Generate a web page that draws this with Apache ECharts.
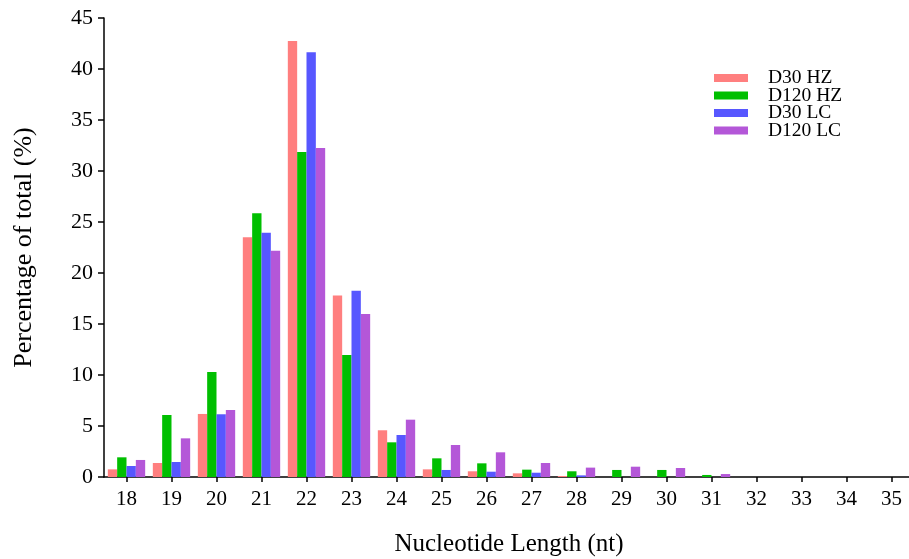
<!DOCTYPE html>
<html>
<head>
<meta charset="utf-8">
<script src="https://cdn.jsdelivr.net/npm/echarts@6/dist/echarts.min.js"></script>
<style>
  html, body { margin: 0; padding: 0; background: #fff; }
  #chart { width: 909px; height: 559px; }
</style>
</head>
<body>
<div id="chart"></div>
<script>
// 长度类别
var categories = ['18', '19', '20', '21', '22', '23', '24', '25', '26', '27', '28', '29', '30', '31', '32', '33', '34', '35'];

// 各样本数据 (%)
var d30hz  = [0.75, 1.37, 6.18, 23.5, 42.75, 17.8, 4.58, 0.75, 0.56, 0.36, 0.1, 0, 0, 0, 0, 0, 0, 0];
var d120hz = [1.93, 6.08, 10.3, 25.85, 31.86, 11.96, 3.4, 1.83, 1.34, 0.72, 0.56, 0.69, 0.69, 0.2, 0, 0, 0, 0];
var d30lc  = [1.08, 1.47, 6.15, 23.95, 41.63, 18.27, 4.12, 0.69, 0.52, 0.42, 0.16, 0, 0, 0, 0, 0, 0, 0];
var d120lc = [1.67, 3.79, 6.57, 22.19, 32.25, 15.98, 5.62, 3.14, 2.42, 1.37, 0.92, 1.01, 0.88, 0.29, 0, 0, 0, 0];

var seriesNames = ['D30 HZ', 'D120 HZ', 'D30 LC', 'D120 LC'];
var seriesData = [d30hz, d120hz, d30lc, d120lc];
var colors = ['#FF7F7F', '#00BF00', '#5757FF', '#B457D8'];

var font = '"Liberation Serif", "Times New Roman", serif';

var chart = echarts.init(document.getElementById('chart'));
var option = {
    animation: false,
    color: colors,
    grid: { left: 104, right: -5, top: 18, bottom: 82, containLabel: false, outerBoundsMode: 'none' },
    legend: {
        orient: 'vertical',
        left: 709,
        top: 63,
        itemWidth: 34,
        itemHeight: 8,
        itemGap: -2.5,
        icon: 'rect',
        data: seriesNames,
        textStyle: {
            fontFamily: font,
            fontSize: 19.5,
            color: '#000',
            lineHeight: 17,
            padding: [0, 0, 0, 15]
        }
    },
    xAxis: {
        type: 'category',
        data: categories,
        name: 'Nucleotide Length (nt)',
        nameLocation: 'middle',
        nameGap: 55,
        nameTextStyle: { fontFamily: font, fontSize: 25, color: '#000' },
        axisLine: { lineStyle: { color: '#000', width: 1.5 } },
        axisTick: { show: true, alignWithLabel: true, interval: 0, length: 5, lineStyle: { color: '#000', width: 1.5 } },
        axisLabel: { fontFamily: font, fontSize: 21, color: '#000', margin: 12, interval: 0 }
    },
    yAxis: {
        type: 'value',
        min: 0,
        max: 45,
        interval: 5,
        name: 'Percentage of total (%)',
        nameLocation: 'middle',
        nameGap: 67,
        nameTextStyle: { fontFamily: font, fontSize: 26, color: '#000' },
        axisLine: { show: true, lineStyle: { color: '#000', width: 1.5 } },
        axisTick: { show: true, length: 6, lineStyle: { color: '#000', width: 1.5 } },
        axisLabel: { fontFamily: font, fontSize: 22, color: '#000', margin: 11 },
        splitLine: { show: false }
    },
    series: seriesNames.map(function (name, i) {
        return {
            type: 'bar',
            name: name,
            data: seriesData[i],
            barGap: '0%',
            barCategoryGap: '17%'
        };
    })
};
chart.setOption(option);
</script>
</body>
</html>
